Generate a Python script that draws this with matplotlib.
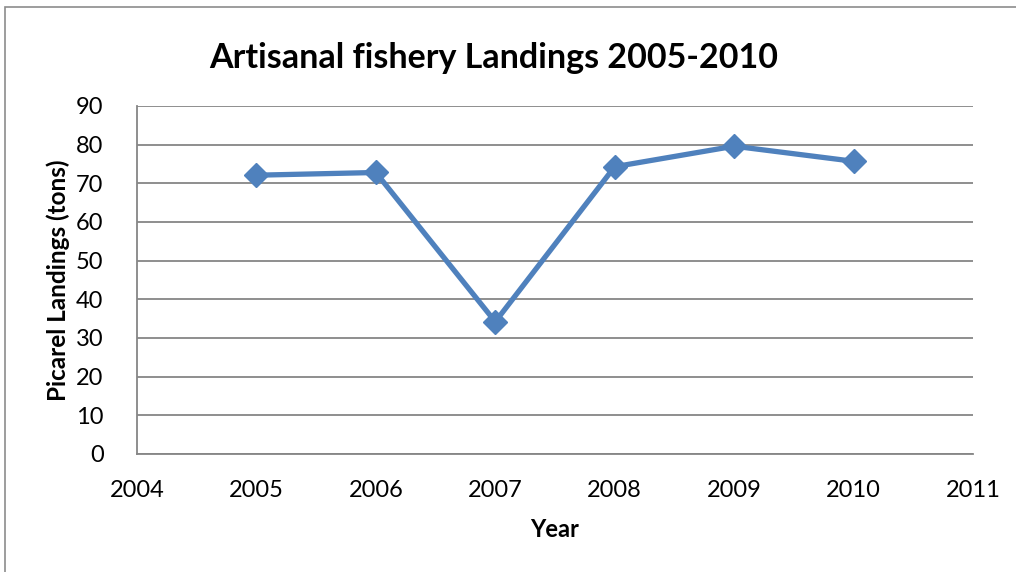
import matplotlib.pyplot as plt
from matplotlib.patches import Rectangle

# landings per year
years = [2005, 2006, 2007, 2008, 2009, 2010]
landings = [72.1, 72.8, 34.2, 74.3, 79.6, 75.7]

plt.rcParams['font.family'] = ['Lato', 'DejaVu Sans']

fig = plt.figure(figsize=(10.16, 5.72), dpi=100)
ax = fig.add_axes([0.1348, 0.2063, 0.8229, 0.6084])

# chart border
fig.patches.append(Rectangle((5 / 1016, -0.1), 1.2, (572 - 7) / 572 + 0.1,
                             transform=fig.transFigure, fill=False,
                             edgecolor='#8c8c8c', linewidth=1.2))

ax.plot(years, landings, color='#4F81BD', linewidth=3.8, marker='D',
        markersize=12, zorder=3)

ax.set_xlim(2004, 2011)
ax.set_ylim(0, 90)
ax.set_xticks(range(2004, 2012))
ax.set_yticks(range(0, 91, 10))
ax.yaxis.grid(True, color='#868686', linewidth=1.3)
ax.set_axisbelow(True)
for s in ['top', 'right']:
    ax.spines[s].set_visible(False)
for s in ['left', 'bottom']:
    ax.spines[s].set_color('#868686')
    ax.spines[s].set_linewidth(1.3)
ax.tick_params(length=0, labelsize=17)
ax.tick_params(axis='y', pad=24)
ax.tick_params(axis='x', pad=19)

ax.set_xlabel('Year', fontsize=17, fontweight='bold', labelpad=12)
ax.set_ylabel('Picarel Landings (tons)', fontsize=17.5, fontweight='bold', labelpad=4)
fig.text(0.486, 0.898, 'Artisanal fishery Landings 2005-2010', ha='center',
         va='center', fontsize=24.5, fontweight='bold')

fig.savefig('out.png', dpi=100)
